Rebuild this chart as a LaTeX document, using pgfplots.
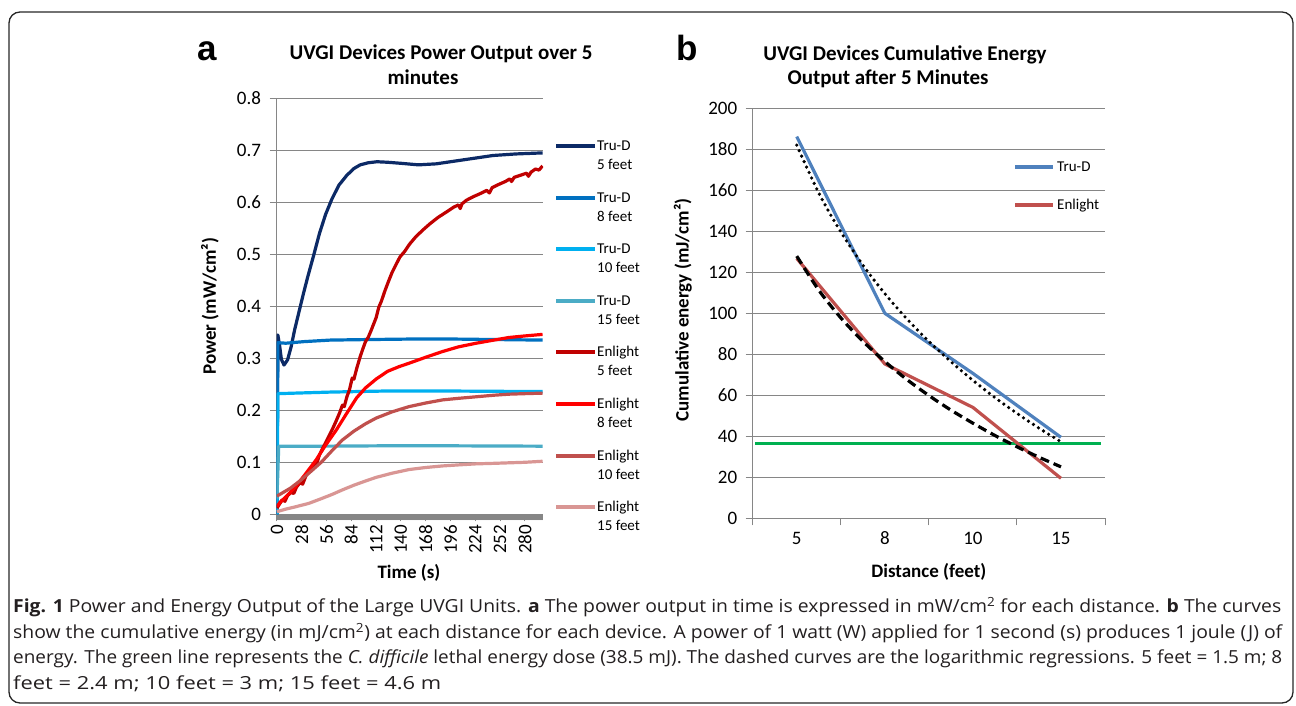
\documentclass[border=0pt]{standalone}
\usepackage{fontspec}
\usepackage{graphicx}
\usepackage{pgfplots}
\pgfplotsset{compat=1.18}
\setmainfont{Carlito}
\newfontfamily\arialfont{Liberation Sans}
\newfontfamily\capfont{Open Sans}
\definecolor{tdA}{RGB}{12,42,102}
\definecolor{tdB}{RGB}{0,112,192}
\definecolor{tdC}{RGB}{0,176,240}
\definecolor{tdD}{RGB}{75,172,198}
\definecolor{enA}{RGB}{192,0,0}
\definecolor{enB}{RGB}{255,0,0}
\definecolor{enC}{RGB}{192,80,77}
\definecolor{enD}{RGB}{217,150,148}
\definecolor{trub}{RGB}{79,129,189}
\definecolor{enlr}{RGB}{192,80,77}
\definecolor{grn}{RGB}{0,176,80}
\definecolor{gridg}{RGB}{134,134,134}
\definecolor{axg}{RGB}{134,134,134}
\definecolor{capc}{RGB}{35,31,32}

\pgfplotsset{
  ucommon/.style={
    scale only axis,
    anchor=south west,
    axis x line*=bottom, axis y line*=left,
    axis line style={draw=axg, line width=1pt},
    ymajorgrids, grid style={draw=gridg, line width=1pt},
    tick align=outside,
    every tick/.style={draw=axg, line width=1pt},
    tick label style={font=\fontsize{19}{21}\selectfont, text=black},
    /pgf/number format/assume math mode=true,
    label style={font=\bfseries\fontsize{19}{21}\selectfont},
  },
  dline/.style={line width=3.2pt, line join=round, no markers},
}

\newcommand{\legtxt}{\fontsize{15}{17}\selectfont}
\newcommand{\ttlfont}{\bfseries\fontsize{21}{24}\selectfont}

\begin{document}
\begin{tikzpicture}[x=1pt,y=1pt]
\useasboundingbox (0,0) rectangle (1296,706);
\draw[line width=1.3pt, rounded corners=11pt, black!85] (9,694) rectangle (1293,3);

% ---------- panel a ----------
\begin{axis}[ucommon,
  at={(276.5pt,191.7pt)}, width=266.5pt, height=416pt,
  xmin=-0.5, xmax=300.5, ymin=0, ymax=0.8,
  ytick={0,0.1,0.2,0.3,0.4,0.5,0.6,0.7,0.8},
  yticklabel style={/pgf/number format/fixed,/pgf/number format/precision=1, xshift=-5pt},
  xtick={0,28,56,84,112,140,168,196,224,252,280},
  xticklabel style={rotate=90, anchor=east},
  minor xtick={0,1,...,300},
  major tick length=7pt, minor tick length=6pt,
  xlabel={Time (s)}, ylabel={Power (mW/cm²)},
  xlabel style={at={(axis description cs:0.497,-0.141)}, anchor=center},
  ylabel style={at={(axis description cs:-0.2495,0.5)}, anchor=center},
]
% Tru-D 5 feet
\addplot[dline, tdA] coordinates {
(0,0.0)(1,0.345)(3,0.325)(5,0.298)(8,0.287)(12,0.297)(16,0.322)(20,0.355)(25,0.39)
(30,0.425)(35,0.458)(41,0.495)(48,0.54)(55,0.577)(62,0.606)(70,0.633)(79,0.652)
(87,0.665)(94,0.672)(103,0.676)(113,0.678)(125,0.677)(140,0.675)(160,0.672)
(180,0.674)(200,0.679)(220,0.684)(244,0.690)(270,0.693)(300,0.695)};
% Tru-D 8 feet
\addplot[dline, tdB] coordinates {
(0,0.0)(1,0.33)(10,0.329)(30,0.332)(60,0.335)(100,0.336)(150,0.337)(200,0.337)(250,0.336)(300,0.335)};
% Tru-D 10 feet
\addplot[dline, tdC] coordinates {
(0,0.0)(1,0.232)(20,0.233)(60,0.235)(120,0.237)(200,0.237)(300,0.236)};
% Tru-D 15 feet
\addplot[dline, tdD] coordinates {
(0,0.03)(2,0.131)(50,0.131)(150,0.132)(300,0.131)};
% Enlight 5 feet
\addplot[dline, enA] coordinates {
(0,0.012)(3,0.02)(6,0.028)(9,0.025)(12,0.036)(16,0.042)(19,0.04)(22,0.052)(26,0.061)
(29,0.058)(33,0.075)(37,0.086)(41,0.095)(44,0.093)(48,0.114)(52,0.128)(56,0.141)
(60,0.155)(63,0.165)(67,0.18)(71,0.196)(74,0.21)(76,0.207)(79,0.226)(82,0.24)
(85,0.262)(87,0.26)(90,0.28)(94,0.303)(97,0.318)(100,0.332)(103,0.34)(106,0.352)
(109,0.365)(112,0.378)(115,0.398)(118,0.41)(122,0.43)(126,0.448)(130,0.465)
(135,0.482)(139,0.495)(144,0.505)(150,0.52)(157,0.534)(165,0.547)(173,0.559)
(182,0.571)(192,0.582)(200,0.591)(205,0.595)(207,0.588)(209,0.597)(214,0.604)
(222,0.611)(230,0.617)(237,0.623)(240,0.618)(243,0.628)(250,0.634)(258,0.640)
(263,0.645)(265,0.64)(268,0.648)(275,0.652)(282,0.656)(284,0.650)(287,0.658)
(292,0.664)(296,0.662)(300,0.670)};
% Enlight 8 feet
\addplot[dline, enB] coordinates {
(0,0.015)(3,0.022)(12,0.037)(21,0.053)(32,0.077)(44,0.104)(55,0.133)(67,0.162)
(78,0.192)(90,0.224)(100,0.243)(112,0.260)(125,0.275)(138,0.284)(150,0.291)
(168,0.302)(187,0.313)(205,0.322)(225,0.329)(245,0.335)(262,0.340)(280,0.343)(300,0.346)};
% Enlight 10 feet
\addplot[dline, enC] coordinates {
(0,0.035)(5,0.04)(15,0.05)(25,0.063)(36,0.079)(50,0.1)(62,0.122)(74,0.143)(87,0.160)
(100,0.174)(112,0.185)(130,0.197)(149,0.207)(168,0.214)(187,0.220)(205,0.223)
(225,0.226)(245,0.229)(262,0.231)(280,0.232)(300,0.233)};
% Enlight 15 feet
\addplot[dline, enD] coordinates {
(0,0.005)(10,0.01)(20,0.014)(36,0.021)(50,0.03)(62,0.038)(74,0.047)(87,0.056)
(100,0.064)(112,0.071)(130,0.079)(149,0.086)(168,0.090)(187,0.093)(205,0.095)
(225,0.097)(245,0.098)(262,0.099)(280,0.100)(300,0.102)};
\end{axis}

% legend a
\foreach \c/\a/\b [count=\i from 0] in {tdA/Tru-D/5 feet, tdB/Tru-D/8 feet, tdC/Tru-D/10 feet, tdD/Tru-D/15 feet, enA/Enlight/5 feet, enB/Enlight/8 feet, enC/Enlight/10 feet, enD/Enlight/15 feet}{
  \pgfmathsetmacro{\ly}{706-146-51.6*\i}
  \draw[\c, line width=4pt] (556,\ly) -- (595,\ly);
  \node[anchor=base west, inner sep=0pt, font=\legtxt] at (597,\ly-4.5) {\a};
  \node[anchor=base west, inner sep=0pt, font=\legtxt] at (597,\ly-23.5) {\b};
}

% titles a
\node[anchor=base, inner sep=0pt, font=\ttlfont] at (441,646) {UVGI Devices Power Output over 5};
\node[anchor=base, inner sep=0pt, font=\ttlfont] at (423,621) {minutes};
\node[anchor=base west, inner sep=0pt, font=\arialfont\bfseries\fontsize{35}{37}\selectfont] at (197,645) {a};

% ---------- panel b ----------
\begin{axis}[ucommon,
  at={(752.7pt,187.7pt)}, width=352.3pt, height=410pt,
  xmin=0.5, xmax=4.5, ymin=0, ymax=200,
  ytick={0,20,40,60,80,100,120,140,160,180,200},
  yticklabel style={xshift=-5pt},
  xtick={0.5,1.5,2.5,3.5,4.5}, xticklabels={},
  extra x ticks={1,2,3,4}, extra x tick labels={5,8,10,15},
  extra x tick style={major tick length=0pt, xticklabel style={yshift=-10pt}},
  major tick length=7pt,
  xlabel={Distance (feet)}, ylabel={Cumulative energy (mJ/cm²)},
  xlabel style={at={(axis description cs:0.5,-0.131)}, anchor=center},
  ylabel style={at={(axis description cs:-0.198,0.508)}, anchor=center},
]
\addplot[line width=3.2pt, grn, no markers] coordinates {(0.53,36.5)(4.45,36.5)};
\addplot[dline, trub] coordinates {(1,186.2)(2,100)(3,70.7)(4,39.5)};
\addplot[dline, enlr] coordinates {(1,126.8)(2,75.3)(3,54.1)(4,19.5)};
% logarithmic regression curves (sampled)
\addplot[black, line width=3.6pt, line cap=round, dash pattern=on 0pt off 6pt, smooth] coordinates {
(1,182.0)(1.25,158.7)(1.5,139.7)(1.75,123.6)(2,109.6)(2.25,97.3)(2.5,86.3)(2.75,76.4)
(3,67.3)(3.25,58.9)(3.5,51.2)(3.75,44.0)(4,37.3)};
\addplot[black, line width=3.2pt, dash pattern=on 9pt off 5pt, smooth] coordinates {
(1,127.9)(1.25,111.3)(1.5,97.8)(1.75,86.4)(2,76.5)(2.25,67.7)(2.5,59.9)(2.75,52.8)
(3,46.4)(3.25,40.4)(3.5,34.9)(3.75,29.8)(4,25.1)};
\end{axis}

% legend b
\draw[trub, line width=4pt] (1015,539.3) -- (1053,539.3);
\node[anchor=base west, inner sep=0pt, font=\legtxt] at (1057,534.3) {Tru-D};
\draw[enlr, line width=4pt] (1015,501) -- (1053,501);
\node[anchor=base west, inner sep=0pt, font=\legtxt] at (1057,496) {Enlight};

% titles b
\node[anchor=base, inner sep=0pt, font=\ttlfont] at (905,645.5) {UVGI Devices Cumulative Energy};
\node[anchor=base, inner sep=0pt, font=\ttlfont] at (888,621) {Output after 5 Minutes};
\node[anchor=base west, inner sep=0pt, font=\arialfont\bfseries\fontsize{35}{37}\selectfont] at (676,645) {b};

% ---------- caption ----------
\begin{scope}[every node/.style={anchor=base west, inner sep=0pt, text=capc, font=\capfont\fontsize{18}{20}\selectfont}]
\node at (13,93) {\resizebox{1268pt}{\height}{\textbf{Fig. 1} Power and Energy Output of the Large UVGI Units. \textbf{a} The power output in time is expressed in mW/cm\textsuperscript{2} for each distance. \textbf{b} The curves}};
\node at (13,67.5) {\resizebox{1269pt}{\height}{show the cumulative energy (in mJ/cm\textsuperscript{2}) at each distance for each device. A power of 1 watt (W) applied for 1 second (s) produces 1 joule (J) of}};
\node at (13,42) {\resizebox{1269pt}{\height}{energy. The green line represents the \textit{C. difficile} lethal energy dose (38.5 mJ). The dashed curves are the logarithmic regressions. 5 feet = 1.5 m; 8}};
\node at (13,16.5) {\resizebox{428pt}{\height}{feet = 2.4 m; 10 feet = 3 m; 15 feet = 4.6 m}};
\end{scope}
\end{tikzpicture}
\end{document}
